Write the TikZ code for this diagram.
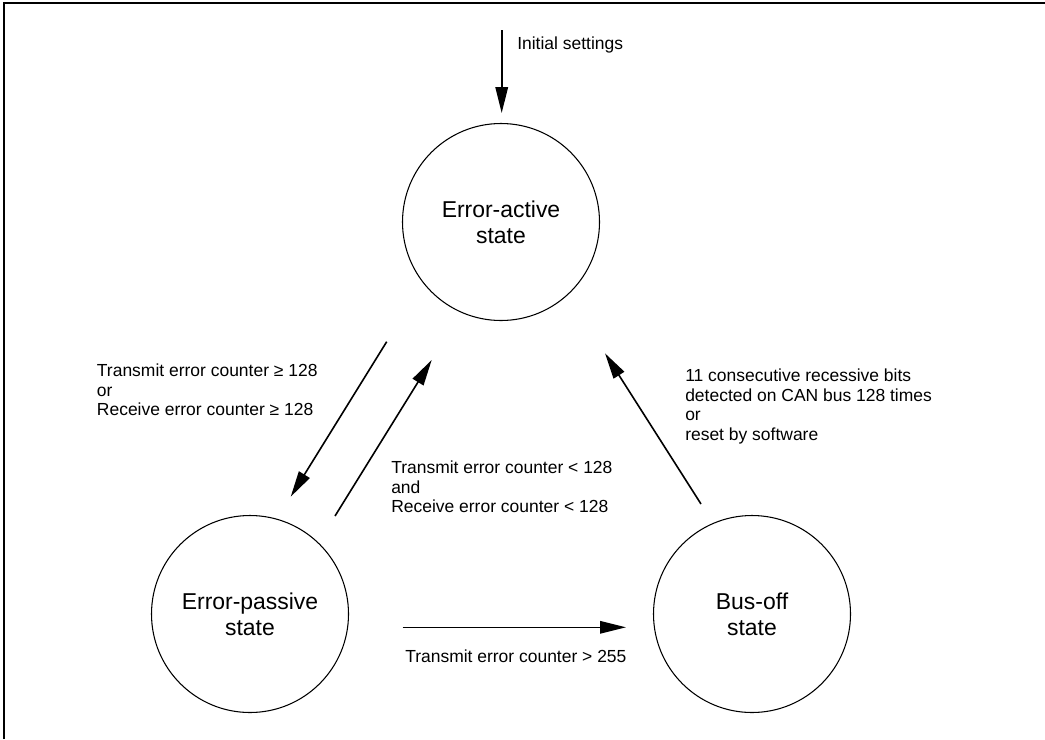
\documentclass[tikz,border=0pt]{standalone}
\usepackage{fontspec}
\setmainfont{Liberation Sans}
\usetikzlibrary{arrows.meta}
\tikzset{
  statenode/.style={circle, draw, line width=0.8pt, inner sep=0pt, minimum size=147.75pt,
    align=center, font=\fontsize{17.2pt}{19.5pt}\selectfont},
  lbl/.style={inner sep=0pt, align=left, anchor=west, font=\fontsize{13.1pt}{14.6pt}\selectfont},
  trans/.style={line width=1.2pt, -{Triangle[length=19.5pt,width=9.4pt]}},
}
\begin{document}
\begin{tikzpicture}[x=0.75pt,y=-0.75pt]
\useasboundingbox (0,0) rectangle (1045,739);
% frame (only top and left edges visible)
\draw[line width=1.2pt] (4,739) -- (4,3) -- (1045,3);

% states
\node[statenode] (act) at (501,222) {Error-active\\state};
\node[statenode] (pas) at (250,614) {Error-passive\\state};
\node[statenode] (off) at (752,614) {Bus-off\\state};

% connector end points
\coordinate (i0) at (501.7,30);
\coordinate (i1) at (501.7,113);
\coordinate (a1s) at (386.7,341.7);
\coordinate (a1e) at (290.7,496.7);
\coordinate (a2s) at (335,516);
\coordinate (a2e) at (431.7,360);
\coordinate (a3s) at (701,504);
\coordinate (a3e) at (605,353.3);
\coordinate (a4s) at (402.7,627.3);
\coordinate (a4e) at (626,627.3);

% transitions
\draw[trans] (i0) -- (i1);
\draw[trans] (a1s) -- (a1e);
\draw[trans] (a2s) -- (a2e);
\draw[trans] (a3s) -- (a3e);
\draw[trans] (a4s) -- (a4e);

% labels
\node[lbl] (linit) at (517,45) {Initial settings};
\node[lbl] (lap) at (96.7,390) {Transmit error counter ≥ 128\\or\\Receive error counter ≥ 128};
\node[lbl] (lpa) at (391,487) {Transmit error counter < 128\\and\\Receive error counter < 128};
\node[lbl] (loa) at (685,406.5) {11 consecutive recessive bits\\detected on CAN bus 128 times\\or\\reset by software};
\node[lbl] (lpo) at (405,656) {Transmit error counter > 255};
\end{tikzpicture}
\end{document}
